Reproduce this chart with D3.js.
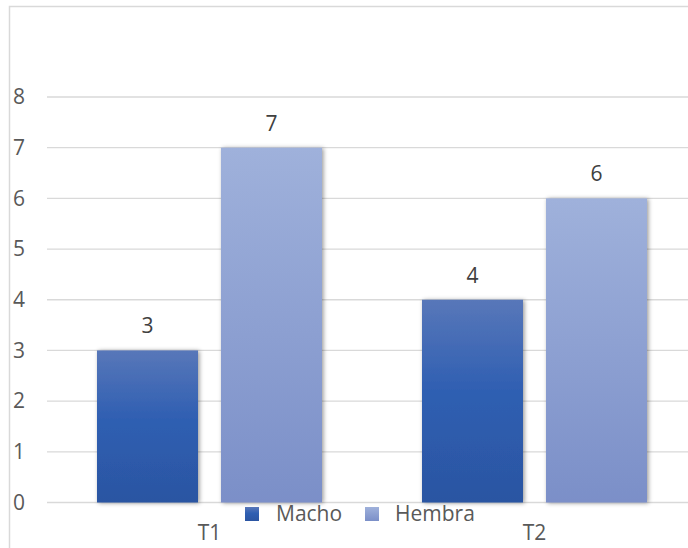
<!DOCTYPE html>
<html>
<head>
<meta charset="utf-8">
<script src="https://cdn.jsdelivr.net/npm/d3@7"></script>
<style>
  html, body { margin: 0; padding: 0; background: #fff; }
  svg { display: block; font-family: "Open Sans", "Noto Sans", sans-serif; }
</style>
</head>
<body>
<svg id="chart" width="688" height="548"></svg>
<script>
// Data
const categories = ["T1", "T2"];
const seriesNames = ["Macho", "Hembra"];
const machoValues = [3, 4];
const hembraValues = [7, 6];
const yTicks = [0, 1, 2, 3, 4, 5, 6, 7, 8];

const rows = categories.map((c, i) => ({
  category: c,
  values: [
    { series: "Macho", value: machoValues[i] },
    { series: "Hembra", value: hembraValues[i] }
  ]
}));

const W = 688, H = 548;
const svg = d3.select("#chart");

// Gradients and shadow
const defs = svg.append("defs");
const gradStops = {
  Macho: [["0%", "#5877b9"], ["45%", "#2f5fb2"], ["100%", "#2b55a2"]],
  Hembra: [["0%", "#9fb1db"], ["100%", "#7b8fc8"]]
};
Object.entries(gradStops).forEach(([name, stops]) => {
  const g = defs.append("linearGradient")
    .attr("id", "grad-" + name)
    .attr("x1", 0).attr("y1", 0).attr("x2", 0).attr("y2", 1);
  stops.forEach(([o, c]) => g.append("stop").attr("offset", o).attr("stop-color", c));
});
const shadow = defs.append("filter").attr("id", "barShadow")
  .attr("x", "-20%").attr("y", "-10%").attr("width", "140%").attr("height", "120%");
shadow.append("feDropShadow")
  .attr("dx", 1.5).attr("dy", 0.5).attr("stdDeviation", 2.2)
  .attr("flood-color", "#000").attr("flood-opacity", 0.4);

// Frame (top and left edges)
svg.append("path")
  .attr("d", `M9.5,${H} L9.5,6.5 L${W},6.5`)
  .attr("fill", "none").attr("stroke", "#d9d9d9").attr("stroke-width", 1.5);

// Scales
const y = d3.scaleLinear().domain([0, 8]).range([502.5, 97]);
const x0 = d3.scaleBand().domain(categories).range([47, 697]).padding(0);
const groupPad = 50;
const x1 = d3.scaleBand().domain(seriesNames)
  .range([groupPad, x0.bandwidth() - groupPad])
  .paddingInner(23 / 124).paddingOuter(0);

// Gridlines
svg.append("g")
  .selectAll("line")
  .data(yTicks)
  .join("line")
  .attr("x1", 47).attr("x2", W)
  .attr("y1", d => y(d)).attr("y2", d => y(d))
  .attr("stroke", "#d9d9d9").attr("stroke-width", 1.3);

// Y axis tick labels
svg.append("g")
  .selectAll("text")
  .data(yTicks)
  .join("text")
  .attr("x", 25).attr("y", d => y(d))
  .attr("dy", "0.35em")
  .attr("text-anchor", "end")
  .attr("fill", "#595959")
  .attr("font-size", 21)
  .text(d => d);

// Bars
const groups = svg.append("g")
  .selectAll("g")
  .data(rows)
  .join("g")
  .attr("transform", d => `translate(${x0(d.category)},0)`);

groups.selectAll("rect")
  .data(d => d.values)
  .join("rect")
  .attr("x", d => x1(d.series))
  .attr("y", d => y(d.value))
  .attr("width", x1.bandwidth())
  .attr("height", d => y(0) - y(d.value))
  .attr("fill", d => `url(#grad-${d.series})`)
  .attr("filter", "url(#barShadow)");

// Data labels
groups.selectAll("text.val")
  .data(d => d.values)
  .join("text")
  .attr("class", "val")
  .attr("x", d => x1(d.series) + x1.bandwidth() / 2)
  .attr("y", d => y(d.value) - 17)
  .attr("text-anchor", "middle")
  .attr("fill", "#404040")
  .attr("font-size", 21)
  .text(d => d.value);

// Category labels
svg.append("g")
  .selectAll("text")
  .data(categories)
  .join("text")
  .attr("x", d => x0(d) + x0.bandwidth() / 2)
  .attr("y", 540)
  .attr("text-anchor", "middle")
  .attr("fill", "#595959")
  .attr("font-size", 21)
  .text(d => d);

// Legend
const legendItems = [
  { name: "Macho", sx: 245, tx: 276 },
  { name: "Hembra", sx: 365, tx: 395 }
];
const legend = svg.append("g");
legend.selectAll("rect")
  .data(legendItems)
  .join("rect")
  .attr("x", d => d.sx).attr("y", 507)
  .attr("width", 14).attr("height", 14)
  .attr("fill", d => `url(#grad-${d.name})`);
legend.selectAll("text")
  .data(legendItems)
  .join("text")
  .attr("x", d => d.tx).attr("y", 521)
  .attr("fill", "#595959")
  .attr("font-size", 21)
  .text(d => d.name);
</script>
</body>
</html>
